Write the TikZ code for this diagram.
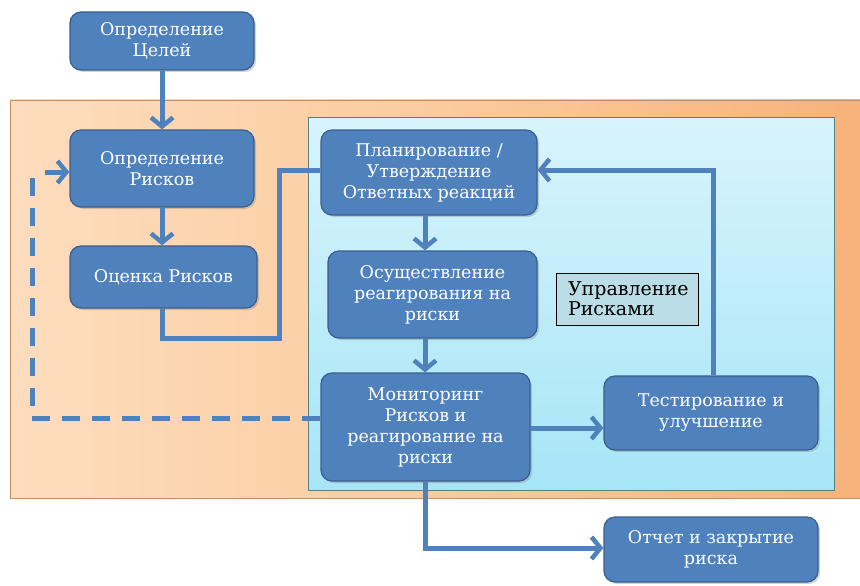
\documentclass[tikz,border=0pt]{standalone}
\usepackage{fontspec}
\setmainfont{DejaVu Serif}
\newfontfamily\dvserif{DejaVu Serif}
\usetikzlibrary{arrows.meta,shadows}
\definecolor{boxfill}{HTML}{4F81BD}
\definecolor{boxedge}{HTML}{3A5F8E}
\definecolor{conn}{HTML}{4F81BD}
\definecolor{orL}{HTML}{FDDDBE}
\definecolor{orM}{HTML}{FBCB9E}
\definecolor{orR}{HTML}{F8B27A}
\definecolor{blT}{HTML}{D8F4FC}
\definecolor{blB}{HTML}{A6E5F7}
\definecolor{lblfill}{HTML}{BADDE8}
\tikzset{
  box/.style={draw=boxedge, line width=1.2pt, fill=boxfill, rounded corners=11pt,
    text=white, font=\dvserif\fontsize{17.5}{21}\selectfont, align=center, inner sep=2pt,
    drop shadow={shadow xshift=2pt, shadow yshift=-2pt, opacity=0.35}},
  conn/.style={draw=conn, line width=5pt},
  arr/.style={conn, -{Straight Barb[length=9pt,width=22pt,line width=4.5pt]}},
  dashconn/.style={conn, dash pattern=on 18pt off 12pt}
}
\begin{document}
\begin{tikzpicture}[x=1pt,y=-1pt]
\useasboundingbox (0,0) rectangle (860,586);
% backgrounds
\shade[left color=orL, right color=orR, middle color=orM, draw=none] (10,100) rectangle (860,498);
\draw[color=orR!80!black, line width=0.6pt] (860,100) -- (10,100) -- (10,498) -- (860,498);
\shade[top color=blT, bottom color=blB] (308,117) rectangle (834,490);
\draw[color=gray!70!teal, line width=1pt] (308,117) rectangle (834,490);
% nodes
\node[box, minimum width=184pt, minimum height=58pt] (goals) at (162,41) {Определение\\Целей};
\node[box, minimum width=184pt, minimum height=77pt] (risks) at (162,168.5) {Определение\\Рисков};
\node[box, minimum width=187pt, minimum height=62pt] (assess) at (163.5,277) {Оценка Рисков};
\node[box, minimum width=216pt, minimum height=85pt] (plan) at (429,172.5) {Планирование /\\Утверждение\\Ответных реакций};
\node[box, minimum width=209pt, minimum height=87pt] (impl) at (432.5,294.5) {Осуществление\\реагирования на\\риски};
\node[box, minimum width=209pt, minimum height=108pt] (mon) at (425.5,427) {Мониторинг\\Рисков и\\реагирование на\\риски};
\node[box, minimum width=214pt, minimum height=74pt] (test) at (711,413) {Тестирование и\\улучшение};
\node[box, minimum width=214pt, minimum height=65pt] (report) at (711,549.5) {Отчет и закрытие\\риска};
\node[draw=black, line width=0.8pt, fill=lblfill, minimum width=142pt, minimum height=52pt,
  align=left, font=\dvserif\fontsize{19}{20}\selectfont, text width=118pt, inner xsep=12pt, inner ysep=3pt] (lbl) at (627,299) {Управление\\Рисками};
% connectors
\coordinate (c1) at (162,338);
\coordinate (c2) at (279,338);
\coordinate (c3) at (279,170);
\coordinate (c4) at (713,170);
\coordinate (c5) at (425,548);
\coordinate (d1) at (32,418);
\coordinate (d2) at (32,172);
\draw[arr] (goals) -- (risks);
\draw[arr] (risks) -- (risks |- assess.north);
\draw[conn] (assess.south -| c1) -- (c1) -- (c2) -- (c3) -- (plan.west |- c3);
\draw[arr] (plan.south -| 425,0) -- (impl.north -| 425,0);
\draw[arr] (impl.south -| 425,0) -- (mon.north -| 425,0);
\draw[arr] (mon.east |- 0,428) -- (test.west |- 0,428);
\draw[arr] (test.north -| c4) -- (c4) -- (plan.east |- c4);
\draw[arr] (mon.south -| c5) -- (c5) -- (report.west |- c5);
\draw[dashconn] (mon.west |- d1) -- (d1) -- (d2);
\draw[arr] (45,172) -- (risks.west |- d2);
\end{tikzpicture}
\end{document}
